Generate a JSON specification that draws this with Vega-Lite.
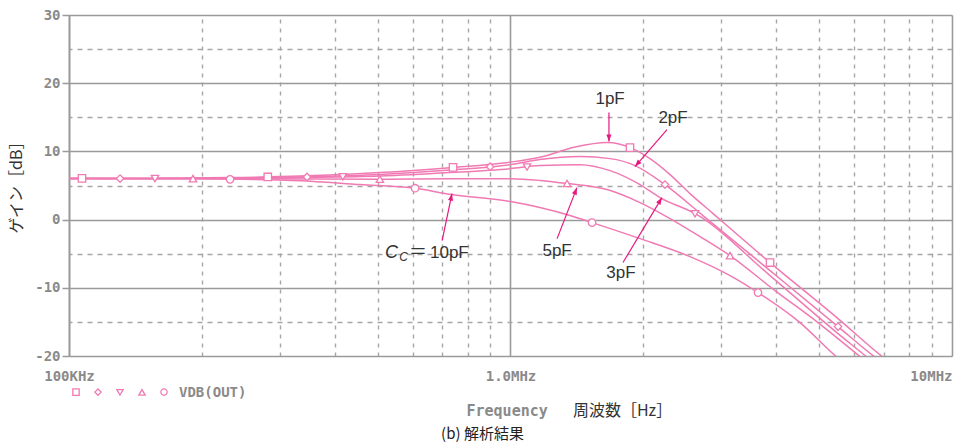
{
  "$schema": "https://vega.github.io/schema/vega-lite/v6.json",
  "width": 883,
  "height": 341,
  "autosize": {"type": "none"},
  "padding": {"left": 69, "top": 15, "right": 13, "bottom": 92},
  "background": "white",
  "config": {"view": {"stroke": null}},
  "title": {"text": "(b) 解析結果", "orient": "bottom", "anchor": "middle", "frame": "group", "dx": -28, "offset": 8, "font": "Noto Sans CJK JP", "fontSize": 15, "fontWeight": "normal", "color": "#222222"},
  "datasets": {
    "curves": [
      {"C": "1pF", "f": 100, "dB": 6.01}, {"C": "1pF", "f": 152.6, "dB": 6.04}, {"C": "1pF", "f": 231.6, "dB": 6.16}, {"C": "1pF", "f": 333.6, "dB": 6.38}, {"C": "1pF", "f": 506, "dB": 6.89}, {"C": "1pF", "f": 729, "dB": 7.62}, {"C": "1pF", "f": 1000, "dB": 8.43}, {"C": "1pF", "f": 1166, "dB": 9.13}, {"C": "1pF", "f": 1400, "dB": 10.63}, {"C": "1pF", "f": 1654, "dB": 11.29}, {"C": "1pF", "f": 1884, "dB": 10.45}, {"C": "1pF", "f": 2070, "dB": 8.94}, {"C": "1pF", "f": 2298, "dB": 6.6}, {"C": "1pF", "f": 2550, "dB": 3.81}, {"C": "1pF", "f": 2876, "dB": 0.88}, {"C": "1pF", "f": 3871, "dB": -6.3}, {"C": "1pF", "f": 5519, "dB": -14.52}, {"C": "1pF", "f": 6905, "dB": -19.94}, {"C": "1pF", "f": 7237, "dB": -20.97},
      {"C": "2pF", "f": 100, "dB": 6.01}, {"C": "2pF", "f": 198, "dB": 6.01}, {"C": "2pF", "f": 333.6, "dB": 6.23}, {"C": "2pF", "f": 506, "dB": 6.6}, {"C": "2pF", "f": 729, "dB": 7.26}, {"C": "2pF", "f": 1000, "dB": 8.06}, {"C": "2pF", "f": 1166, "dB": 8.8}, {"C": "2pF", "f": 1437, "dB": 9.24}, {"C": "2pF", "f": 1681, "dB": 8.94}, {"C": "2pF", "f": 1914, "dB": 7.92}, {"C": "2pF", "f": 2238, "dB": 5.13}, {"C": "2pF", "f": 2729, "dB": 0.59}, {"C": "2pF", "f": 3871, "dB": -7.48}, {"C": "2pF", "f": 5519, "dB": -15.69}, {"C": "2pF", "f": 6622, "dB": -19.94}, {"C": "2pF", "f": 7050, "dB": -21.26},
      {"C": "3pF", "f": 100, "dB": 6.01}, {"C": "3pF", "f": 198, "dB": 6.01}, {"C": "3pF", "f": 333.6, "dB": 6.16}, {"C": "3pF", "f": 506, "dB": 6.38}, {"C": "3pF", "f": 729, "dB": 6.89}, {"C": "3pF", "f": 1000, "dB": 7.48}, {"C": "3pF", "f": 1166, "dB": 7.92}, {"C": "3pF", "f": 1437, "dB": 8.06}, {"C": "3pF", "f": 1681, "dB": 7.18}, {"C": "3pF", "f": 1965, "dB": 5.13}, {"C": "3pF", "f": 2181, "dB": 3.23}, {"C": "3pF", "f": 2645, "dB": 0.73}, {"C": "3pF", "f": 3871, "dB": -8.21}, {"C": "3pF", "f": 5519, "dB": -16.72}, {"C": "3pF", "f": 6353, "dB": -19.94}, {"C": "3pF", "f": 6763, "dB": -21.41},
      {"C": "5pF", "f": 100, "dB": 6.01}, {"C": "5pF", "f": 198, "dB": 6.01}, {"C": "5pF", "f": 333.6, "dB": 5.95}, {"C": "5pF", "f": 506, "dB": 5.92}, {"C": "5pF", "f": 729, "dB": 5.98}, {"C": "5pF", "f": 1000, "dB": 6.0}, {"C": "5pF", "f": 1166, "dB": 5.75}, {"C": "5pF", "f": 1350, "dB": 5.28}, {"C": "5pF", "f": 1654, "dB": 4.4}, {"C": "5pF", "f": 1965, "dB": 2.49}, {"C": "5pF", "f": 2298, "dB": 0.15}, {"C": "5pF", "f": 2687, "dB": -2.49}, {"C": "5pF", "f": 3142, "dB": -5.28}, {"C": "5pF", "f": 3973, "dB": -10.41}, {"C": "5pF", "f": 4971, "dB": -15.1}, {"C": "5pF", "f": 6189, "dB": -20.09}, {"C": "5pF", "f": 6387, "dB": -20.82},
      {"C": "10pF", "f": 100, "dB": 6.01}, {"C": "10pF", "f": 198, "dB": 5.98}, {"C": "10pF", "f": 333.6, "dB": 5.7}, {"C": "10pF", "f": 456, "dB": 5.13}, {"C": "10pF", "f": 601, "dB": 4.62}, {"C": "10pF", "f": 737, "dB": 3.67}, {"C": "10pF", "f": 1000, "dB": 2.64}, {"C": "10pF", "f": 1166, "dB": 1.76}, {"C": "10pF", "f": 1364, "dB": 0.59}, {"C": "10pF", "f": 1530, "dB": -0.44}, {"C": "10pF", "f": 1965, "dB": -2.79}, {"C": "10pF", "f": 2550, "dB": -5.43}, {"C": "10pF", "f": 3142, "dB": -8.21}, {"C": "10pF", "f": 3636, "dB": -10.7}, {"C": "10pF", "f": 4526, "dB": -15.1}, {"C": "10pF", "f": 5433, "dB": -19.94}, {"C": "10pF", "f": 5633, "dB": -20.82}
    ],
    "marks": [
      {"C": "1pF", "f": 107, "dB": 6.04}, {"C": "1pF", "f": 282, "dB": 6.25}, {"C": "1pF", "f": 741, "dB": 7.65}, {"C": "1pF", "f": 1865, "dB": 10.55}, {"C": "1pF", "f": 3871, "dB": -6.3},
      {"C": "2pF", "f": 130.5, "dB": 6.01}, {"C": "2pF", "f": 346, "dB": 6.25}, {"C": "2pF", "f": 899, "dB": 7.75}, {"C": "2pF", "f": 2238, "dB": 5.13}, {"C": "2pF", "f": 5519, "dB": -15.69},
      {"C": "3pF", "f": 156.6, "dB": 6.01}, {"C": "3pF", "f": 417, "dB": 6.28}, {"C": "3pF", "f": 1090, "dB": 7.7}, {"C": "3pF", "f": 2618, "dB": 0.85},
      {"C": "5pF", "f": 190.9, "dB": 6.01}, {"C": "5pF", "f": 506, "dB": 5.92}, {"C": "5pF", "f": 1343, "dB": 5.3}, {"C": "5pF", "f": 3142, "dB": -5.28},
      {"C": "10pF", "f": 231.6, "dB": 5.9}, {"C": "10pF", "f": 608, "dB": 4.6}, {"C": "10pF", "f": 1530, "dB": -0.44}, {"C": "10pF", "f": 3636, "dB": -10.7}
    ],
    "arrows": [
      {"C": "1pF", "f1": 1671, "dB1": 15.69, "f2": 1671, "dB2": 11.44, "dir": 180},
      {"C": "2pF", "f1": 2262, "dB1": 13.2, "f2": 1914, "dB2": 7.77, "dir": 221},
      {"C": "3pF", "f1": 1798, "dB1": -6.3, "f2": 2203, "dB2": 3.23, "dir": 31},
      {"C": "5pF", "f1": 1275, "dB1": -2.79, "f2": 1414, "dB2": 4.69, "dir": 21},
      {"C": "10pF", "f1": 700, "dB1": -3.08, "f2": 737, "dB2": 3.81, "dir": 12}
    ],
    "labels": [
      {"t": "1pF", "f": 1681, "dB": 17.74},
      {"t": "2pF", "f": 2334, "dB": 14.96},
      {"t": "3pF", "f": 1779, "dB": -7.77},
      {"t": "5pF", "f": 1275, "dB": -4.55}
    ],
    "cc": [{"f": 589, "dB": -4.84}],
    "xtitle": [{"t": "周波数［Hz］", "f": 1385, "dB": -28.0}]
  },
  "layer": [
    {
      "data": {"name": "curves"},
      "mark": {"type": "line", "interpolate": "monotone", "clip": true, "color": "#f07ab3", "strokeWidth": 1.5},
      "encoding": {
        "x": {"field": "f", "type": "quantitative", "scale": {"type": "log", "domain": [100, 10000], "nice": false},
          "axis": {"values": [100, 1000, 10000], "title": "Frequency", "grid": true, "gridColor": "#9a9a9a", "gridWidth": 1.6, "domain": false, "ticks": false, "tickSize": 0, "labelPadding": 20, "labelBaseline": "middle", "labelFont": "DejaVu Sans Mono", "labelFontWeight": "bold", "labelFontSize": 14, "labelColor": "#8a8a8a", "labelOverlap": false, "labelFlush": false, "labelBound": false,
            "labelExpr": "datum.value == 100 ? '100KHz' : datum.value == 1000 ? '1.0MHz' : '10MHz'",
            "labelAlign": {"condition": {"test": "datum.value == 10000", "value": "right"}, "value": "center"},
            "titleFont": "DejaVu Sans Mono", "titleFontWeight": "bold", "titleFontSize": 15, "titleColor": "#8a8a8a", "titleX": 397, "titleY": 54, "titleAlign": "left", "titleBaseline": "middle"}},
        "y": {"field": "dB", "type": "quantitative", "scale": {"domain": [-20, 30], "nice": false},
          "axis": {"values": [-20, -10, 0, 10, 20, 30], "title": "ゲイン［dB］", "grid": true, "gridColor": "#9a9a9a", "gridWidth": 1.6, "domain": true, "domainColor": "#9a9a9a", "domainWidth": 1.6, "ticks": true, "tickSize": 7, "tickColor": "#9a9a9a", "tickWidth": 1.5, "labelPadding": 2, "labelFont": "DejaVu Sans Mono", "labelFontWeight": "bold", "labelFontSize": 14, "labelColor": "#8a8a8a", "labelOverlap": false, "labelFlush": false, "labelExpr": "'' + datum.value",
            "titleFont": "Noto Sans CJK JP", "titleFontSize": 16, "titleFontWeight": "normal", "titleColor": "#333333", "titleX": -53, "titleY": 168, "titleBaseline": "middle", "titleAlign": "center", "titleAngle": 270}},
        "detail": {"field": "C"}
      }
    },
    {
      "data": {"name": "marks"},
      "mark": {"type": "point", "filled": true, "color": "#ffffff", "size": 55, "opacity": 1},
      "encoding": {
        "x": {"field": "f", "type": "quantitative",
          "axis": {"orient": "top", "values": [200, 300, 400, 500, 600, 700, 800, 900, 2000, 3000, 4000, 5000, 6000, 7000, 8000, 9000], "grid": true, "gridColor": "#a6a6a6", "gridWidth": 1.4, "gridDash": [4, 5], "labels": false, "ticks": false, "domain": false, "title": null}},
        "y": {"field": "dB", "type": "quantitative",
          "axis": {"orient": "right", "values": [-15, -5, 5, 15, 25], "grid": true, "gridColor": "#a6a6a6", "gridWidth": 1.4, "gridDash": [5, 5], "labels": false, "ticks": false, "domain": false, "title": null}},
        "shape": {"field": "C", "type": "nominal",
          "scale": {"domain": ["1pF", "2pF", "3pF", "5pF", "10pF"], "range": ["square", "diamond", "triangle-down", "triangle-up", "circle"]},
          "legend": null}
      }
    },
    {
      "data": {"name": "marks"},
      "mark": {"type": "point", "filled": false, "color": "#f07ab3", "strokeWidth": 1.3, "size": 55, "opacity": 1},
      "encoding": {
        "x": {"field": "f", "type": "quantitative", "axis": null},
        "y": {"field": "dB", "type": "quantitative", "axis": null},
        "shape": {"field": "C", "type": "nominal",
          "legend": {"orient": "none", "legendX": 3, "legendY": 373, "direction": "horizontal", "title": "VDB(OUT)", "titleOrient": "right", "titleFont": "DejaVu Sans Mono", "titleFontWeight": "bold", "titleFontSize": 14, "titleColor": "#8a8a8a", "titlePadding": 9, "titleBaseline": "middle", "labelExpr": "' '", "labelFontSize": 1, "labelOffset": 0, "columnPadding": 10, "symbolSize": 40, "symbolStrokeWidth": 1.3, "symbolStrokeColor": "#f07ab3", "symbolFillColor": "#ffffff"}}
      }
    },
    {
      "data": {"name": "arrows"},
      "mark": {"type": "rule", "color": "#e6197f", "strokeWidth": 1.2},
      "encoding": {
        "x": {"field": "f1", "type": "quantitative", "axis": null},
        "y": {"field": "dB1", "type": "quantitative", "axis": null},
        "x2": {"field": "f2"},
        "y2": {"field": "dB2"}
      }
    },
    {
      "data": {"name": "arrows"},
      "mark": {"type": "point", "shape": "M0,0L-0.36,1L0.36,1Z", "filled": true, "color": "#e6197f", "size": 200, "opacity": 1},
      "encoding": {
        "x": {"field": "f2", "type": "quantitative", "axis": null},
        "y": {"field": "dB2", "type": "quantitative", "axis": null},
        "angle": {"field": "dir", "type": "quantitative", "scale": null}
      }
    },
    {
      "data": {"name": "labels"},
      "mark": {"type": "text", "font": "Liberation Sans", "fontSize": 17, "color": "#333333", "align": "center", "baseline": "middle"},
      "encoding": {
        "x": {"field": "f", "type": "quantitative", "axis": null},
        "y": {"field": "dB", "type": "quantitative", "axis": null},
        "text": {"field": "t"}
      }
    },
    {
      "data": {"name": "cc"},
      "mark": {"type": "text", "text": "C", "font": "Liberation Sans", "fontStyle": "italic", "fontSize": 18, "color": "#333333", "align": "right", "baseline": "middle", "dx": -11},
      "encoding": {
        "x": {"field": "f", "type": "quantitative", "axis": null},
        "y": {"field": "dB", "type": "quantitative", "axis": null}
      }
    },
    {
      "data": {"name": "cc"},
      "mark": {"type": "text", "text": "C", "font": "Liberation Sans", "fontStyle": "italic", "fontSize": 12, "color": "#333333", "align": "right", "baseline": "middle", "dx": -1, "dy": 4},
      "encoding": {
        "x": {"field": "f", "type": "quantitative", "axis": null},
        "y": {"field": "dB", "type": "quantitative", "axis": null}
      }
    },
    {
      "data": {"name": "cc"},
      "mark": {"type": "text", "text": "＝", "font": "Noto Sans CJK JP", "fontSize": 18, "color": "#333333", "align": "left", "baseline": "middle"},
      "encoding": {
        "x": {"field": "f", "type": "quantitative", "axis": null},
        "y": {"field": "dB", "type": "quantitative", "axis": null}
      }
    },
    {
      "data": {"name": "cc"},
      "mark": {"type": "text", "text": "10pF", "font": "Liberation Sans", "fontSize": 17, "color": "#333333", "align": "left", "baseline": "middle", "dx": 21},
      "encoding": {
        "x": {"field": "f", "type": "quantitative", "axis": null},
        "y": {"field": "dB", "type": "quantitative", "axis": null}
      }
    },
    {
      "data": {"name": "xtitle"},
      "mark": {"type": "text", "font": "Noto Sans CJK JP", "fontSize": 16, "color": "#333333", "align": "left", "baseline": "middle"},
      "encoding": {
        "x": {"field": "f", "type": "quantitative", "axis": null},
        "y": {"field": "dB", "type": "quantitative", "axis": null},
        "text": {"field": "t"}
      }
    }
  ],
  "resolve": {"axis": {"x": "independent", "y": "independent"}, "legend": {"shape": "independent"}}
}
